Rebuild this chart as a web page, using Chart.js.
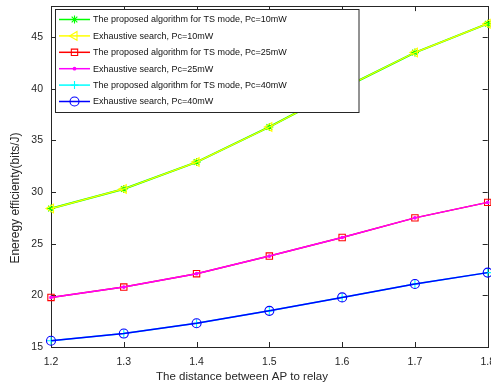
<!DOCTYPE html>
<html>
<head>
<meta charset="utf-8">
<script src="https://cdn.jsdelivr.net/npm/chart.js"></script>
<style>
  html, body { margin: 0; padding: 0; background: #fff; overflow: hidden; }
  canvas { display: block; }
</style>
</head>
<body>
<canvas id="ee" width="504" height="390"></canvas>
<script>
// distance AP -> relay
const distances = [1.2, 1.3, 1.4, 1.5, 1.6, 1.7, 1.8];
const xTicks = [1.2, 1.3, 1.4, 1.5, 1.6, 1.7, 1.8];
const yTicks = [15, 20, 25, 30, 35, 40, 45];

// energy efficiency (bits/J)
const proposedPc10 = [28.4, 30.3, 32.9, 36.3, 40.0, 43.5, 46.3];
const exhaustivePc10 = [28.4, 30.3, 32.9, 36.3, 40.0, 43.5, 46.3];
const proposedPc25 = [19.8, 20.8, 22.1, 23.8, 25.6, 27.5, 29.0];
const exhaustivePc25 = [19.8, 20.8, 22.1, 23.8, 25.6, 27.5, 29.0];
const proposedPc40 = [15.6, 16.3, 17.3, 18.5, 19.8, 21.1, 22.2];
const exhaustivePc40 = [15.6, 16.3, 17.3, 18.5, 19.8, 21.1, 22.2];

const xTitle = 'The distance between AP to relay';
const yTitle = 'Eneregy efficienty(bits/J)';

const FONT = '"Liberation Sans", Arial, Helvetica, sans-serif';
const INK = '#262626';
const NONE = 'rgba(0,0,0,0)';

function series(label, values, color, style, extra) {
  return Object.assign({
    label: label,
    data: distances.map((x, i) => ({ x: x, y: values[i] })),
    borderColor: color,
    backgroundColor: NONE,
    pointBorderColor: color,
    pointBackgroundColor: NONE,
    pointStyle: style,
    pointRadius: 4,
    pointBorderWidth: 1.1,
    borderWidth: 1.5,
    tension: 0,
    clip: false
  }, extra || {});
}

const datasets = [
  series('The proposed algorithm for TS mode, Pc=10mW', proposedPc10, '#00ff00', 'star', { order: 6, borderWidth: 2 }),
  series('Exhaustive search, Pc=10mW', exhaustivePc10, '#ffff00', 'triangle', { order: 5, pointRotation: -90, pointRadius: 5, borderWidth: 1.2 }),
  series('The proposed algorithm for TS mode, Pc=25mW', proposedPc25, '#ff0000', 'rect', { order: 4, pointRadius: 4.5 }),
  series('Exhaustive search, Pc=25mW', exhaustivePc25, '#ff00ff', 'circle', { order: 3, pointRadius: 1.3, pointBackgroundColor: '#ff00ff' }),
  series('The proposed algorithm for TS mode, Pc=40mW', proposedPc40, '#00ffff', 'cross', { order: 2 }),
  series('Exhaustive search, Pc=40mW', exhaustivePc40, '#0000ff', 'circle', { order: 1, pointRadius: 4.5 })
];

// matlab-like box with inward ticks
const boxPlugin = {
  id: 'box',
  beforeDatasetsDraw(chart) {
    const { ctx, chartArea: a, scales } = chart;
    ctx.save();
    ctx.strokeStyle = INK;
    ctx.lineWidth = 1;
    ctx.strokeRect(Math.round(a.left) + 0.5, Math.round(a.top) + 0.5,
      Math.round(a.right - a.left), Math.round(a.bottom - a.top));
    ctx.beginPath();
    xTicks.forEach(v => {
      const px = Math.round(scales.x.getPixelForValue(v)) + 0.5;
      ctx.moveTo(px, a.bottom); ctx.lineTo(px, a.bottom - 5);
      ctx.moveTo(px, a.top); ctx.lineTo(px, a.top + 5);
    });
    yTicks.forEach(v => {
      const py = Math.round(scales.y.getPixelForValue(v)) + 0.5;
      ctx.moveTo(a.left, py); ctx.lineTo(a.left + 5, py);
      ctx.moveTo(a.right, py); ctx.lineTo(a.right - 5, py);
    });
    ctx.stroke();
    ctx.restore();
  }
};

const legendPlugin = {
  id: 'matLegend',
  afterDatasetsDraw(chart) {
    const ctx = chart.ctx;
    const bx = 55.5, by = 9.5, bw = 303.5, bh = 103;
    ctx.save();
    ctx.fillStyle = '#fff';
    ctx.fillRect(bx, by, bw, bh);
    ctx.strokeStyle = INK;
    ctx.lineWidth = 1;
    ctx.strokeRect(bx, by, bw, bh);
    ctx.font = '9px ' + FONT;
    ctx.textBaseline = 'middle';
    chart.data.datasets.forEach((ds, i) => {
      const y = 19.5 + i * 16.4;
      ctx.strokeStyle = ds.borderColor;
      ctx.lineWidth = 1.5;
      ctx.beginPath();
      ctx.moveTo(59, y); ctx.lineTo(90, y);
      ctx.stroke();
      ctx.fillStyle = ds.pointBackgroundColor;
      ctx.lineWidth = ds.pointBorderWidth;
      Chart.helpers.drawPoint(ctx, {
        pointStyle: ds.pointStyle,
        radius: ds.pointRadius,
        rotation: ds.pointRotation || 0,
        borderWidth: ds.pointBorderWidth
      }, 74.5, y);
      ctx.fillStyle = '#111';
      ctx.fillText(ds.label, 93, y + 0.5);
    });
    ctx.restore();
  }
};

const titlePlugin = {
  id: 'axisTitles',
  afterDraw(chart) {
    const ctx = chart.ctx;
    ctx.save();
    ctx.fillStyle = INK;
    ctx.textAlign = 'center';
    ctx.textBaseline = 'middle';
    ctx.font = '11.5px ' + FONT;
    ctx.fillText(xTitle, 242, 377);
    ctx.translate(16, 198);
    ctx.rotate(-Math.PI / 2);
    ctx.font = '12px ' + FONT;
    ctx.fillText(yTitle, 0, 0);
    ctx.restore();
  }
};

// canvas is a bit wider than the 491px window so the last x label is cut like the original
new Chart(document.getElementById('ee').getContext('2d'), {
  type: 'line',
  data: { datasets: datasets },
  options: {
    responsive: false,
    animation: false,
    layout: { padding: { top: 4, right: 12, left: 0, bottom: 0 } },
    plugins: { legend: { display: false }, tooltip: { enabled: false } },
    scales: {
      x: {
        type: 'linear',
        min: 1.2,
        max: 1.8,
        afterBuildTicks: s => { s.ticks = xTicks.map(v => ({ value: v })); },
        afterFit: s => { s.height = 43; },
        grid: { display: false, drawTicks: false },
        border: { display: false },
        ticks: {
          padding: 9, color: INK, autoSkip: false, maxRotation: 0,
          font: { family: FONT, size: 10.5 },
          callback: v => v.toFixed(1)
        }
      },
      y: {
        min: 15,
        max: 48,
        afterBuildTicks: s => { s.ticks = yTicks.map(v => ({ value: v })); },
        afterFit: s => { s.width = 51; s.paddingTop = 0; s.paddingBottom = 0; },
        grid: { display: false, drawTicks: false },
        border: { display: false },
        ticks: {
          padding: 8, color: INK, autoSkip: false,
          font: { family: FONT, size: 10.5 },
          callback: v => String(v)
        }
      }
    }
  },
  plugins: [boxPlugin, legendPlugin, titlePlugin]
});
</script>
</body>
</html>
